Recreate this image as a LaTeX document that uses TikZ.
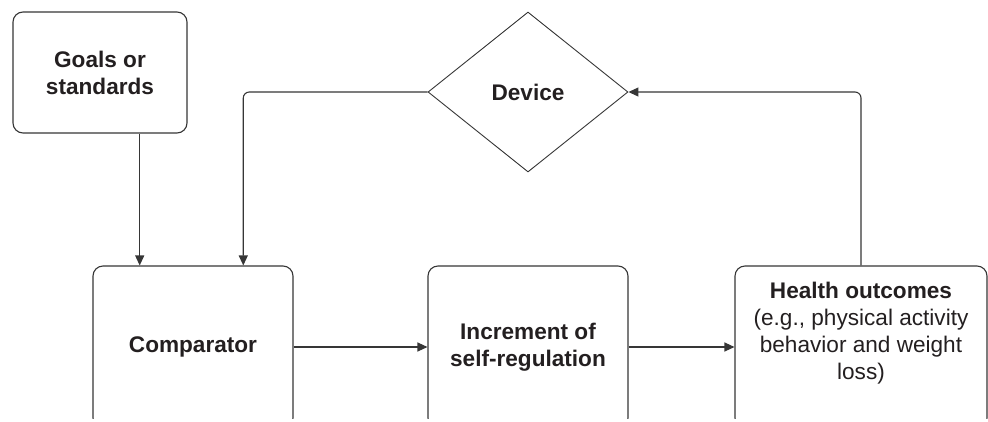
\documentclass[tikz,border=0pt]{standalone}
\usepackage{fontspec}
\setmainfont{Liberation Sans}
\usetikzlibrary{arrows.meta,shapes.geometric,calc}
\definecolor{linec}{HTML}{363636}
\definecolor{textc}{HTML}{231F20}
\begin{document}
\begin{tikzpicture}[x=1pt,y=-1pt,
  box/.style={draw=linec, line width=1.1pt, rounded corners=10pt, text=textc,
    align=center, font=\fontsize{22.6}{27}\selectfont\bfseries},
  plain/.style={text=textc, align=center, font=\fontsize{22.6}{27}\selectfont},
  link/.style={draw=linec, line width=1.1pt, rounded corners=6pt,
    -{Triangle[length=10pt,width=9pt]}}]
\useasboundingbox (0,0) rectangle (988,421);

% top row
\node[box, minimum width=174pt, minimum height=121pt] (goals) at (100,72.5) {Goals or\\standards};
\node[diamond, draw=linec, line width=0.9pt, minimum width=200pt, minimum height=160pt,
  inner sep=0pt, text=textc, font=\fontsize{22.6}{27}\selectfont\bfseries] (device) at (528,92) {Device};

% bottom row, open at the lower edge
\begin{scope}
  \clip (0,0) rectangle (988,418);
  \node[box, minimum width=200pt, minimum height=162pt] (comparator) at (193,347) {Comparator};
  \node[box, minimum width=200pt, minimum height=162pt] (increment) at (528,347) {Increment of\\self-regulation};
  \node[box, minimum width=252pt, minimum height=162pt] (health) at (861,347) {};
\end{scope}
\node[plain] (healthtext) at (861,333) {\textbf{Health outcomes}\\(e.g., physical activity\\behavior and weight\\loss)};

% connectors
\coordinate (inA) at ($(comparator.north west)!0.235!(comparator.north east)$);
\coordinate (inB) at ($(comparator.north west)!0.75!(comparator.north east)$);
\draw[link] (inA |- goals.south) -- (inA);
\draw[link] (device.west) -| (inB);
\draw[link] (health.north) |- (device.east);
\draw[link] (comparator.east) -- (increment.west);
\draw[link] (increment.east) -- (health.west);
\end{tikzpicture}
\end{document}
